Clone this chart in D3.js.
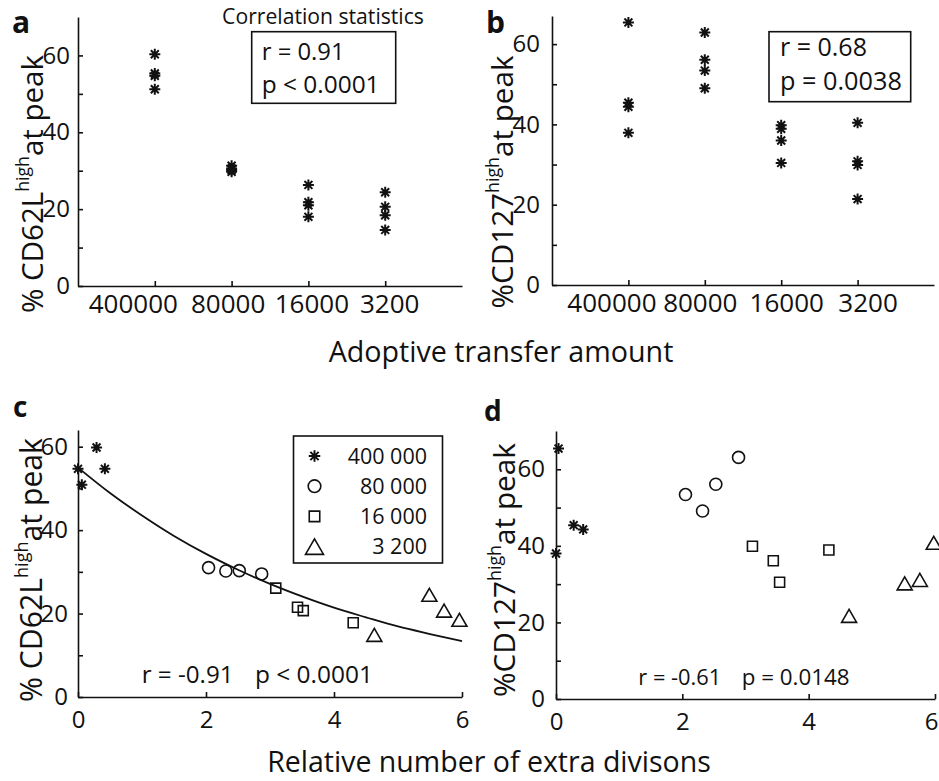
<!DOCTYPE html>
<html>
<head>
<meta charset="utf-8">
<script src="https://cdn.jsdelivr.net/npm/d3@7"></script>
<style>
  body { margin: 0; background: #fff; }
  svg { display: block; }
  text { fill: #111; }
</style>
</head>
<body>
<script>
// values
const amounts = ['400000', '80000', '16000', '3200'];
const legendLabels = ['400 000', '80 000', '16 000', '3 200'];
const shapes = ['star', 'circle', 'square', 'triangle'];

// panel a: %CD62L high at peak, per transfer amount
const cd62lA = [
    [60.3, 55.3, 54.7, 51.2],
    [31.3, 30.6, 30.2, 29.7],
    [26.3, 21.8, 21.0, 18.0],
    [24.4, 20.6, 18.4, 14.6]
];
// panel b: %CD127 high at peak
const cd127B = [
    [65.4, 45.4, 44.4, 37.9],
    [62.9, 56.1, 53.4, 49.0],
    [39.8, 38.9, 36.0, 30.4],
    [40.4, 30.8, 29.9, 21.4]
];
// panel c: relative extra divisions vs %CD62L
const divC = [
    [0.00, 0.06, 0.29, 0.42],
    [2.04, 2.31, 2.52, 2.87],
    [3.09, 3.43, 3.52, 4.30],
    [4.63, 5.49, 5.72, 5.96]
];
const cd62lC = [
    [54.7, 50.9, 59.8, 54.7],
    [31.0, 30.2, 30.3, 29.5],
    [26.1, 21.5, 20.7, 17.8],
    [14.9, 24.5, 20.7, 18.5]
];
// fitted curve in panel c
const fitX = [0, 0.5, 1, 1.5, 2, 2.5, 3, 3.5, 4, 4.5, 5, 5.5, 6];
const fitY = [55, 48.9, 43.5, 38.6, 34.3, 30.5, 27.1, 24.1, 21.4, 19.1, 16.9, 15.1, 13.4];
// panel d: relative extra divisions vs %CD127
const divD = [
    [0.04, 0.00, 0.28, 0.43],
    [2.05, 2.32, 2.53, 2.89],
    [3.11, 3.44, 3.54, 4.32],
    [4.64, 5.52, 5.76, 5.98]
];
const cd127D = [
    [65.4, 38.0, 45.4, 44.3],
    [53.4, 49.1, 56.1, 63.1],
    [39.9, 36.1, 30.5, 38.9],
    [21.7, 30.2, 31.1, 40.8]
];
const yTicks = [0, 10, 20, 30, 40, 50, 60];

const svg = d3.select('body').append('svg')
    .attr('width', 939)
    .attr('height', 781)
    .style('font-family', '"Open Sans", "Noto Sans", sans-serif');

// scale text so that it fills a given width
function fit(sel, w) {
    sel.each(function() {
        const n = this.getComputedTextLength();
        const fs = parseFloat(d3.select(this).attr('font-size'));
        d3.select(this).attr('font-size', fs * w / n);
    });
    return sel;
}

function markerPath(type, s) {
    s = s || 1;
    if (type === 'star') {
        const r = 5.5 * s, d = r * 0.72;
        return `M0,${-r}V${r}M${-r},0H${r}M${-d},${-d}L${d},${d}M${-d},${d}L${d},${-d}`;
    }
    if (type === 'circle') {
        const p = d3.path();
        p.arc(0, 0, 6 * s, 0, 2 * Math.PI);
        return p.toString();
    }
    if (type === 'square') {
        const h = 5 * s;
        return `M${-h},${-h}H${h}V${h}H${-h}Z`;
    }
    const w = 7.5 * s, h = 6.5 * s;
    return `M0,${-h}L${w},${h}L${-w},${h}Z`;
}

function panel(xr, yr, xd, yd, xTicks, xFmt, yPad, xPad, xSize) {
    const x = d3.scaleLinear().domain(xd).range(xr);
    const y = d3.scaleLinear().domain(yd).range(yr);
    const g = svg.append('g');
    const ya = g.append('g')
        .attr('transform', `translate(${xr[0]},0)`)
        .call(d3.axisLeft(y).tickValues(yTicks).tickSize(-5).tickSizeOuter(0).tickPadding(yPad)
            .tickFormat(v => v % 20 === 0 ? v : ''));
    const xa = g.append('g')
        .attr('transform', `translate(0,${yr[0]})`)
        .call(d3.axisBottom(x).tickValues(xTicks).tickSize(-5).tickSizeOuter(0).tickPadding(xPad)
            .tickFormat(xFmt));
    [ya, xa].forEach(a => {
        a.attr('font-family', null).attr('font-size', null);
        a.selectAll('path, line').attr('stroke', '#111').attr('stroke-width', 1.6);
        a.selectAll('text').attr('fill', '#111');
    });
    ya.selectAll('text').attr('font-size', 24);
    xa.selectAll('text').attr('font-size', xSize);
    return {x, y, g, xa};
}

function drawPoints(p, xs, ys, shapeOf) {
    ys.forEach((grp, i) => {
        p.g.selectAll(null).data(grp).enter().append('path')
            .attr('d', markerPath(shapeOf(i)))
            .attr('transform', (v, j) => `translate(${p.x(xs(i, j))},${p.y(v)})`)
            .attr('fill', 'none')
            .attr('stroke', '#111')
            .attr('stroke-width', shapeOf(i) === 'star' ? 2 : 1.6);
    });
}

function yTitle(x, cy, w, pre, post) {
    const t = svg.append('text')
        .attr('transform', `translate(${x},${cy}) rotate(-90)`)
        .attr('text-anchor', 'middle')
        .attr('font-size', 28);
    t.append('tspan').text(pre);
    t.append('tspan').attr('font-size', '0.6em').attr('dy', '-0.8em').text('high');
    t.append('tspan').attr('dy', '0.48em').text(post);
    fit(t, w);
}

function label(x, y, txt, size, w, anchor) {
    const t = svg.append('text')
        .attr('x', x).attr('y', y)
        .attr('font-size', size)
        .attr('text-anchor', anchor || 'start')
        .text(txt);
    if (w) fit(t, w);
    return t;
}

// ---- panel a
const pa = panel([78, 462], [286, 17], [0, 5], [0, 70], [1, 2, 3, 4], i => amounts[i - 1], 8, 9, 26);
// the category labels are spread apart in the figure so they do not touch
pa.xa.selectAll('.tick text').attr('dx', (d, i) => [-22, -4, 3, 4][i]);
drawPoints(pa, i => i + 1, cd62lA, () => 'star');
yTitle(43, 184, 258, '% CD62L', 'at peak');

// ---- panel b
const pb = panel([552, 934], [285, 16], [0, 5], [0, 67], [1, 2, 3, 4], i => amounts[i - 1], 12, 9, 26);
pb.xa.selectAll('.tick text').attr('dx', (d, i) => [-17, -5, 5, 10][i]);
drawPoints(pb, i => i + 1, cd127B, () => 'star');
yTitle(513, 182, 253, '%CD127', 'at peak');

// ---- panel c
const pc = panel([78, 462], [697, 430], [0, 6], [0, 64], [0, 2, 4, 6], d3.format('d'), 10, 14, 24);
pc.g.append('path')
    .datum(fitX.map((v, i) => [v, fitY[i]]))
    .attr('d', d3.line().x(d => pc.x(d[0])).y(d => pc.y(d[1])).curve(d3.curveMonotoneX))
    .attr('fill', 'none')
    .attr('stroke', '#111')
    .attr('stroke-width', 1.8);
drawPoints(pc, (i, j) => divC[i][j], cd62lC, i => shapes[i]);
yTitle(42, 570, 264, '% CD62L', 'at peak');

// ---- panel d
const pd = panel([556, 935], [699, 431], [0, 6], [0, 70], [0, 2, 4, 6], d3.format('d'), 11, 14, 24);
drawPoints(pd, (i, j) => divD[i][j], cd127D, i => shapes[i]);
yTitle(515, 570, 254, '%CD127', 'at peak');
// last tick label sits at the page edge; keep it inside
pd.xa.selectAll('.tick').filter(d => d === 6).select('text')
    .attr('text-anchor', 'end').attr('x', 3);

// legend (panel c)
svg.append('rect')
    .attr('x', 293.5).attr('y', 436).attr('width', 149).attr('height', 127)
    .attr('fill', 'none').attr('stroke', '#111').attr('stroke-width', 1.6);
const leg = svg.selectAll('.leg').data(legendLabels).enter().append('g')
    .attr('class', 'leg')
    .attr('transform', (d, i) => `translate(0,${456 + i * 30.2})`);
leg.append('path')
    .attr('d', (d, i) => markerPath(shapes[i], i === 3 ? 1.2 : 1.05))
    .attr('transform', 'translate(314.5,0)')
    .attr('fill', 'none').attr('stroke', '#111')
    .attr('stroke-width', (d, i) => i === 0 ? 2 : 1.6);
leg.append('text')
    .attr('x', 427).attr('dy', '0.36em')
    .attr('text-anchor', 'end')
    .attr('font-size', 21.5)
    .text(d => d);

// correlation boxes
label(323, 24, 'Correlation statistics', 18, 202, 'middle');
svg.append('rect')
    .attr('x', 251.7).attr('y', 31.7).attr('width', 144).attr('height', 71.6)
    .attr('fill', 'none').attr('stroke', '#111').attr('stroke-width', 1.6);
label(261.7, 60, 'r = 0.91', 22, 83);
label(261.7, 93, 'p < 0.0001', 22, 118);
svg.append('rect')
    .attr('x', 769).attr('y', 31.7).attr('width', 141.7).attr('height', 70)
    .attr('fill', 'none').attr('stroke', '#111').attr('stroke-width', 1.6);
label(780, 56, 'r = 0.68', 22, 87);
label(780, 90, 'p = 0.0038', 22, 122);

label(141.7, 683, 'r = -0.91', 22, 92);
label(255, 683, 'p < 0.0001', 22, 118);
label(638.3, 685, 'r = -0.61', 22, 83);
label(741.7, 685, 'p = 0.0148', 22, 108);

// axis titles
label(501, 362, 'Adoptive transfer amount', 26, 345, 'middle');
label(489, 772, 'Relative number of extra divisons', 30, 444, 'middle');

// panel letters
[['a', 12, 33], ['b', 486, 33], ['c', 13, 417], ['d', 484, 421]].forEach(([t, x, y]) => {
    svg.append('text').attr('x', x).attr('y', y)
        .attr('font-size', t === 'a' || t === 'b' ? 30 : 28)
        .attr('font-weight', 700)
        .text(t);
});
</script>
</body>
</html>
